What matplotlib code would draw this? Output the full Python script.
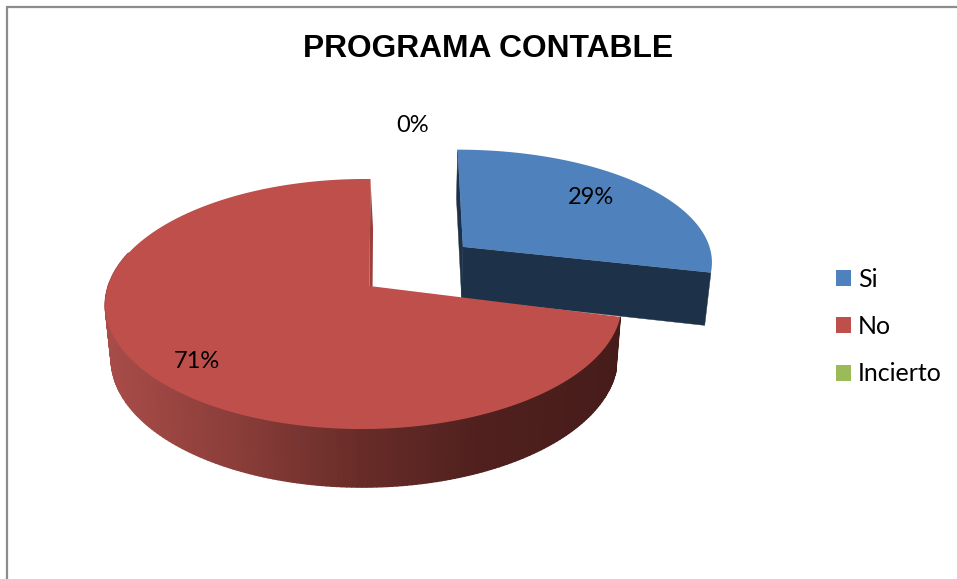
import numpy as np
import matplotlib
matplotlib.use('Agg')
import matplotlib.pyplot as plt
from matplotlib.patches import Patch

# Datos
categorias = ['Si', 'No', 'Incierto']
valores = [29, 71, 0]
etiquetas = ['29%', '71%', '0%']
titulo = 'PROGRAMA CONTABLE'

colores = ['#4f81bd', '#be4f4b', '#9bbb59']
color_corte = ['#1d3249', '#9c3f3b']
rampa_x = [105, 230, 360, 480, 620]
rampa_r = [168, 140, 104, 80, 70]
rampa_g = [76, 62, 44, 32, 28]
rampa_b = [72, 58, 40, 30, 26]

# Perspectiva del disco (pixeles de la imagen)
cx, cy = 369.5, 286
a, b, q, p = 255.5, 122.4, 0.022, 0.144
sep = [(0.385, 0.338), (0, 0)]
radio = [1.0, 1.0]
ancho = [1.048, 1.0]
giro = [(6.0, 3.0), (0.0, 0.0)]
vx = 400


def proyectar(t, k, r=None):
    r = radio[k] if r is None else r
    u = ancho[k]*r*np.sin(t)
    v = r*np.cos(t)
    U = u + sep[k][0]
    V = v + sep[k][1]
    w = 1 + q*U + p*V
    return cx + (a*U + 1.1*V + giro[k][0]*v)/w, cy + (-b*V - giro[k][1]*u)/w


def abajo(x, y):
    return vx + (np.asarray(x) - vx)*0.98, np.asarray(y) + 52 + 0.034*(np.asarray(y) - 250)


fig = plt.figure(figsize=(9.57, 5.79), dpi=100)
ax = fig.add_axes([0, 0, 1, 1])
ax.set_xlim(0, 957)
ax.set_ylim(579, 0)
ax.axis('off')

# Marco
ax.plot([7, 7, 957], [579, 7, 7], color='#8c8c8c', lw=1.6, solid_joinstyle='miter')

total = float(sum(valores))
fr = np.cumsum([0] + valores)/total*2*np.pi

# Sector azul
t = np.linspace(fr[0], fr[1], 120)
xa, ya = proyectar(0.0, 0, 0.0)
xs, ys = proyectar(t, 0)
xb, yb = abajo(xs, ys)
xab, yab = abajo(xa, ya)
ax.fill([xa, xs[0], xb[0], xab], [ya, ys[0], yb[0], yab], color=color_corte[0], lw=0.3)
ax.fill([xa, xs[-1], xb[-1], xab], [ya, ys[-1], yb[-1], yab], color=color_corte[0], lw=0.3)
ax.fill(np.r_[xa, xs], np.r_[ya, ys], color=colores[0], lw=0)

# Sector rojo
t = np.linspace(fr[1], fr[2], 260)
xa, ya = proyectar(0.0, 1, 0.0)
xs, ys = proyectar(t, 1)
xb, yb = abajo(xs, ys)
xab, yab = abajo(xa, ya)
ax.fill([xa, xs[-1], xb[-1] + 2, xab + 2], [ya, ys[-1], yb[-1], yab], color=color_corte[1], lw=0)
for i in range(len(t) - 1):
    if t[i] > np.radians(285):
        break
    xm = 0.5*(xs[i] + xs[i + 1])
    c = (np.interp(xm, rampa_x, rampa_r)/255,
         np.interp(xm, rampa_x, rampa_g)/255,
         np.interp(xm, rampa_x, rampa_b)/255)
    ax.fill([xs[i], xs[i + 1], xb[i + 1], xb[i]], [ys[i], ys[i + 1], yb[i + 1], yb[i]],
            facecolor=c, edgecolor=c, lw=1.0)
ax.fill(np.r_[xa, xs], np.r_[ya, ys], color=colores[1], lw=0)

# Textos
ax.text(488, 49, titulo, ha='center', va='center', fontsize=22.9, fontweight='bold',
        family='Liberation Sans', color='black')
pos_etq = [(591, 197), (197, 361), (413, 125)]
for e, (x, y) in zip(etiquetas, pos_etq):
    ax.text(x, y, e, ha='center', va='center', fontsize=17, family='Lato', color='black')

# Leyenda
h = [Patch(facecolor=c, edgecolor='none') for c in colores]
ax.legend(h, categorias, loc='upper left', bbox_to_anchor=(836/957, 1 - 268/579), frameon=False,
          prop={'family': 'Lato', 'size': 18}, handlelength=0.6, handleheight=0.6,
          handletextpad=0.28, labelspacing=0.97, borderpad=0, borderaxespad=0)

plt.savefig('out.png', dpi=100)
